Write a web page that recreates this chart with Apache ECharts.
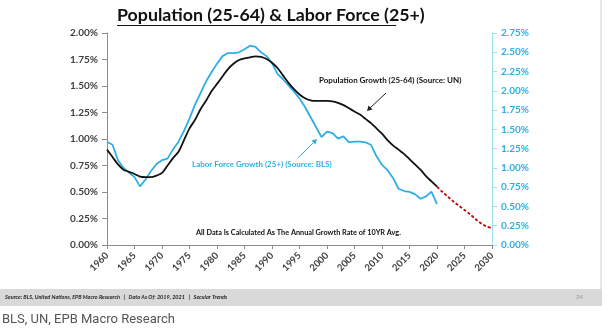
<!DOCTYPE html>
<html><head><meta charset="utf-8">
<script src="https://cdn.jsdelivr.net/npm/echarts@6/dist/echarts.min.js"></script>
<style>html,body{margin:0;padding:0;background:#fff}#c{width:612px;height:331px}</style>
</head><body><div id="c"></div>
<script>
// ---- data ----
const popYears = [1960,1961,1962,1963,1964,1965,1966,1967,1968,1969,1970,1971,1972,1973,1974,1975,1976,1977,1978,1979,1980,1981,1982,1983,1984,1985,1986,1987,1988,1989,1990,1991,1992,1993,1994,1995,1996,1997,1998,1999,2000,2001,2002,2003,2004,2005,2006,2007,2008,2009,2010,2011,2012,2013,2014,2015,2016,2017,2018,2019,2020];
const popGrowth = [0.90,0.83,0.76,0.71,0.69,0.67,0.645,0.64,0.64,0.655,0.68,0.75,0.82,0.88,0.99,1.10,1.18,1.28,1.36,1.45,1.52,1.59,1.66,1.71,1.745,1.76,1.77,1.78,1.775,1.755,1.72,1.67,1.60,1.53,1.47,1.42,1.385,1.365,1.36,1.36,1.36,1.355,1.34,1.32,1.29,1.26,1.23,1.19,1.15,1.10,1.05,0.99,0.94,0.90,0.86,0.81,0.76,0.71,0.65,0.60,0.55];
const projYears = [2020,2021,2022,2023,2024,2025,2026,2027,2028,2029,2030];
const popProjection = [0.55,0.50,0.455,0.41,0.37,0.33,0.29,0.245,0.205,0.175,0.16];
const lfYears = popYears;
const lfGrowth = [1.34,1.30,1.10,1.00,0.94,0.88,0.76,0.85,0.96,1.05,1.10,1.12,1.24,1.34,1.48,1.64,1.82,1.97,2.12,2.24,2.35,2.45,2.49,2.49,2.50,2.54,2.585,2.57,2.50,2.45,2.36,2.22,2.15,2.07,1.99,1.90,1.79,1.66,1.53,1.40,1.47,1.45,1.38,1.41,1.33,1.34,1.34,1.33,1.30,1.15,1.04,0.97,0.87,0.73,0.70,0.69,0.66,0.60,0.63,0.69,0.53];

const titleText = 'Population (25-64) & Labor Force (25+)';
const popLabel = 'Population Growth (25-64) (Source: UN)';
const lfLabel = 'Labor Force Growth (25+) (Source: BLS)';
const noteText = 'All Data Is Calculated As The Annual Growth Rate of 10YR Avg.';
const footerText = 'Source: BLS, United Nations, EPB Macro Research   |   Data As Of: 2019, 2021   |   Secular Trends';
const pageNum = '34';
const creditText = 'BLS, UN, EPB Macro Research';

const pair = (xs, ys) => xs.map((x, i) => [x, ys[i]]);
const BLUE = '#2eaee5';
const FONT = 'Lato';

const chart = echarts.init(document.getElementById('c'), null, {renderer: 'canvas'});
chart.setOption({
  animation: false,
  backgroundColor: '#ffffff',
  textStyle: {fontFamily: FONT},
  grid: {left: 107, right: 120, top: 33, bottom: 86, containLabel: false},
  xAxis: {
    type: 'value', min: 1960, max: 2030, interval: 5,
    axisLine: {lineStyle: {color: '#8c8c8c', width: 1}},
    axisTick: {show: true, length: 4, lineStyle: {color: '#8c8c8c'}},
    splitLine: {show: false},
    axisLabel: {rotate: 45, fontSize: 9.5, color: '#404040', fontWeight: 'bold', fontFamily: FONT, margin: 9,
      formatter: v => String(v)}
  },
  yAxis: [{
    type: 'value', min: 0, max: 2, interval: 0.25, position: 'left',
    axisLine: {show: true, lineStyle: {color: '#8c8c8c'}},
    axisTick: {show: true, length: 5, lineStyle: {color: '#8c8c8c'}},
    splitLine: {show: false},
    axisLabel: {fontSize: 10, fontWeight: 'bold', color: '#404040', fontFamily: FONT, margin: 9,
      formatter: v => v.toFixed(2) + '%'}
  }, {
    type: 'value', min: 0, max: 2.75, interval: 0.25, position: 'right',
    axisLine: {show: true, lineStyle: {color: '#9fdcf5'}},
    axisTick: {show: true, length: 5, lineStyle: {color: '#9fdcf5'}},
    splitLine: {show: false},
    axisLabel: {fontSize: 10, fontWeight: 'bold', color: BLUE, fontFamily: FONT, margin: 9,
      formatter: v => v.toFixed(2) + '%'}
  }],
  series: [{
    name: 'Population Growth', type: 'line', yAxisIndex: 0, data: pair(popYears, popGrowth),
    showSymbol: false, smooth: 0.3, lineStyle: {color: '#111111', width: 1.8}, z: 3
  }, {
    name: 'Projection', type: 'line', yAxisIndex: 0, data: pair(projYears, popProjection),
    showSymbol: false, smooth: 0.3, lineStyle: {color: '#c00000', width: 1.8, type: [3, 2]}, z: 3
  }, {
    name: 'Labor Force Growth', type: 'line', yAxisIndex: 1, data: pair(lfYears, lfGrowth),
    showSymbol: false, lineStyle: {color: BLUE, width: 1.8}, z: 2
  }],
  graphic: [
    {type: 'text', left: 117, top: 6, style: {text: titleText, font: 'bold 17.8px Lato', fill: '#111'}},
    {type: 'line', shape: {x1: 117, y1: 25.5, x2: 396, y2: 25.5}, style: {stroke: '#111', lineWidth: 1.2}},
    {type: 'text', left: 319, top: 76, style: {text: popLabel, font: 'bold 8px Lato', fill: '#111'}},
    {type: 'line', shape: {x1: 386, y1: 93, x2: 369, y2: 109}, style: {stroke: '#222', lineWidth: 1}},
    {type: 'polygon', shape: {points: [[367, 111], [368.5, 105.5], [372.5, 109.5]]}, style: {fill: '#222'}},
    {type: 'text', left: 192, top: 160, style: {text: lfLabel, font: 'bold 8px Lato', fill: BLUE}},
    {type: 'line', shape: {x1: 298, y1: 158, x2: 315, y2: 141}, style: {stroke: BLUE, lineWidth: 1}},
    {type: 'polygon', shape: {points: [[317, 139], [315.5, 144.5], [311.5, 140.5]]}, style: {fill: BLUE}},
    {type: 'text', left: 196, top: 229.5, style: {text: noteText, font: 'bold 7.3px Lato', fill: '#111'}},
    {type: 'line', shape: {x1: 601, y1: 0, x2: 601, y2: 289}, style: {stroke: '#d0d0d0', lineWidth: 1}},
    {type: 'rect', shape: {x: 0, y: 289, width: 602, height: 17}, style: {fill: '#d9d9d9'}},
    {type: 'text', left: 5, top: 294.5, style: {text: footerText, font: 'italic bold 5.5px Lato', fill: '#222'}},
    {type: 'text', left: 576, top: 294, style: {text: pageNum, font: '6px Lato', fill: '#999'}},
    {type: 'text', left: 2, top: 313, style: {text: creditText, font: '13px Roboto', fill: '#555'}}
  ]
});
</script>
</body></html>
